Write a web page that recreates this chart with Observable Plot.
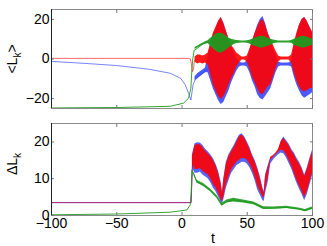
<!DOCTYPE html>
<html>
<head>
<meta charset="utf-8">
<script src="https://cdn.jsdelivr.net/npm/d3@7"></script>
<script src="https://cdn.jsdelivr.net/npm/@observablehq/plot@0.6"></script>
<style>
  html, body { margin: 0; padding: 0; background: #fff; }
  #chart { width: 327px; height: 246px; position: relative; }
  #chart svg { display: block; }
</style>
</head>
<body>
<div id="chart"></div>
<script>
// ---------- axes ----------
const xDomain = [-100, 100];
const xTicks = [-100, -50, 0, 50, 100];
const topDomain = [-25, 25];
const topTicks = [-20, 0, 20];
const botDomain = [0, 25];
const botTicks = [0, 10, 20];

// ---------- top panel: <L_k> ----------
const topBlueT = [-100, -75, -50, -25, -9, -1, 2.5, 5, 6.8, 7.6, 8.5, 10, 14, 19, 22];
const topBlueV = [-1.2, -2.2, -3.3, -5.2, -7.2, -9.8, -13, -17.3, -20.7, -17, -13, -10.6, -8.1, -5.6, -4];
const topRedT = [-100, 5, 6.5, 7.3, 8, 8.8, 9.5, 10.5];
const topRedV = [0.3, 0.3, 0, -3, -6.4, -5, -1, 0];
const topGreenT = [-100, -50, -9, 1.2, 5, 6.8, 7.6, 8.3, 9.3, 11.5, 16.5, 21.6];
const topGreenV = [-24.7, -24.5, -23.9, -22.3, -19.8, -14.8, -5, 0.3, 4.4, 5.3, 7.8, 8.6];

const topBandT = [10,12,14,16,18,20,22,24,26,28,30,32,34,36,38,40,42,44,46,48,50,52,54,56,58,60,62,64,66,68,70,72,74,76,78,80,82,84,86,88,90,92,94,96,98,100];
const topRedHi = [1,2,2,1.5,2,3,8,13,16,19,21,18,14,10,7,5,3,2,1,1,1.5,5,9,13,16,19,20,17,13,10,7,4,1.5,1,1,1,1,2,8,13,17,20,21,19,16,13.6];
const topRedLo = [-1.5,-2.5,-2,-2.5,-2,-3,-8,-13,-16,-19,-20.5,-19,-16.5,-13,-10,-7.5,-4,-2,-0.5,-0.5,-1.5,-5,-9,-12,-15,-17.5,-18,-16,-14,-13,-9,-5,-1.5,-0.5,-0.5,-0.5,-0.5,-2,-7,-11,-14,-16,-16.5,-16,-15,-14.8];
const topBlueHi = [-9,-7.5,-6.5,-5.5,-4.5,2,7,12,15,19,21,18,14,10,6,3,0,-1.5,-2,-2,-1,4,9,13,17,20,21.5,18,13,9,5,2,-1.5,-2,-2,-2,-2,-1,6,12,17,20,21,19,16,13];
const topBlueLo = [-11,-10,-9,-8,-7,-7,-11,-15,-18,-21,-23,-22,-19,-16,-12,-9,-6,-4,-3.5,-3.5,-4,-7,-11,-14,-18,-20,-20.7,-19,-17,-15,-11,-7,-4,-3.5,-3.5,-3.5,-3.5,-4,-9,-13,-16,-18.5,-19.8,-19,-18,-17];
const topGreenHi = [5.8,6.5,7.3,8,8.7,9.2,10.5,11.5,12.5,13,13,12.5,11.5,10.5,10,9.6,9.3,9.2,9.1,9.1,9.2,9.5,10,10.5,11,11.5,11.5,11,10.5,10,9.6,9.3,9.1,9.1,9.1,9.1,9.1,9.3,10,10.5,11,11.5,11.5,11,10.5,10];
const topGreenLo = [4.8,5.5,6.3,7,7.7,7.8,6.5,5,4,3,3,3.5,4.5,5.5,6.5,7.3,7.8,8,8.1,8.1,8,7.6,7,6.5,6,5.6,5.6,6,6.5,7,7.6,7.9,8.1,8.1,8.1,8.1,8.1,7.9,7,6.5,6,5.6,5.6,6,6.5,7];

// ---------- bottom panel: ΔL_k ----------
const botRedLineT = [-100, 7, 7.6, 8.2];
const botRedLineV = [3.5, 3.5, 10, 15.5];
const botBlueLineT = [-100, 7, 7.6, 8.2];
const botBlueLineV = [3.5, 3.5, 10, 15.5];
const botBandT = [8,10,12,14,16,18,20,22,24,26,28,30,31,32,34,36,38,40,42,44,46,48,50,52,54,56,58,60,62,63,64,66,68,70,72,74,76,78,80,82,84,86,88,90,92,94,96,98,100];
const botRedLo = [14,12.5,12.5,12.8,12,11.5,11,10,8.5,7.5,6,4.2,3.8,5,8.5,10.5,12.4,13.5,14.5,15,15.5,15.5,15,14,12.5,10.5,8,6.5,5,4.8,7,10,15,15.8,16.5,17.2,17.8,17.5,16.5,15,13.5,11.5,9.6,8,6.5,4.8,6.5,9,11.5];
const botRedHi = [16,19,19.3,19.2,18.5,17.5,16.8,16,15,13.5,11.5,8.5,6,9.5,14,16,17.3,18.5,20,21.4,21.9,21,19.6,18,16,14.5,12.5,10,7,6.1,10.5,13,15.8,16.3,17,18,20,21,20,19,17.5,16.5,15.1,14,12.5,10.5,12.5,15,17.3];
const botBlueLo = [13,11.5,11.5,11.8,11,10.5,10,9,7.5,6.5,5,3.5,3.2,4.2,7.5,9.5,11.5,12.5,13.5,14,14.5,14.5,14,13,11.5,9.5,7,5.5,4,3.8,6,9,14,15,15.8,16.5,17,16.8,15.7,14.2,12.7,10.7,8.8,7.2,5.7,4,5.7,8.2,10.7];
const botBlueHi = [16.5,19.5,19.8,19.7,19,18,17.3,16.5,15.5,14,12,9,6.5,10,14.5,16.5,17.8,19,20.5,21.8,22.2,21.4,20,18.5,16.5,15,13,10.5,7.5,6.5,11,13.5,15.5,16,16.7,17.7,20.2,21.3,20.4,19.4,18,17,15.6,14.5,13,11,13,15.5,17.7];
const botGreenT = [-100, -50, -9, 3.7, 6.3, 7.0, 7.6, 8.8, 11.4, 16.5, 21.6, 26.7, 30.6, 34.4, 39.5, 47, 55, 62.5, 70, 80.3, 90.6, 94.4, 99.5];
const botGreenV = [0.2, 0.4, 0.9, 1.5, 2.9, 6, 12.4, 11.5, 9.2, 8.3, 6.9, 5.1, 2.9, 3.8, 4.2, 3.8, 3.3, 2, 2, 2.2, 1.7, 1.3, 2];
const botGreenBandT = [9, 11.4, 16.5, 21.6, 26.7, 30.6, 34.4, 39.5, 47, 55, 62.5, 70, 80.3, 90.6, 94.4, 100];
const botGreenLo = [11.1, 8.8, 7.9, 6.5, 4.7, 2.5, 3.4, 3.7, 3.4, 2.9, 1.6, 1.7, 1.9, 1.4, 1.0, 1.6];
const botGreenHi = [11.8, 9.6, 8.7, 7.3, 5.5, 3.3, 4.2, 4.7, 4.2, 3.7, 2.4, 2.3, 2.5, 2.0, 1.6, 2.3];

// ---------- helpers ----------
const line = (T, V) => T.map((t, i) => ({t, v: V[i]}));
const band = (T, L, H) => T.map((t, i) => ({t, lo: L[i], hi: H[i]}));
const fmt = d => String(d).replace("-", "\u2212");

const RED = "#ff0000", BLUE = "#2a3dff", GREEN = "#1f9a1f", TICK = "#777";
const FONT = "'Liberation Sans', Arial, Helvetica, sans-serif";

function axes(yTicks, showX) {
  return [
    Plot.frame({stroke: "#8a8a8a"}),
    Plot.axisX({anchor: "bottom", ticks: xTicks, tickSize: -3, tickPadding: 6, stroke: TICK,
      tickFormat: showX ? fmt : () => "", label: null, fill: "#000"}),
    Plot.axisX({anchor: "top", ticks: xTicks, tickSize: -3, stroke: TICK, tickFormat: () => "", label: null}),
    Plot.axisY({anchor: "left", ticks: yTicks, tickSize: -3, tickPadding: 5, stroke: TICK,
      tickFormat: fmt, label: null, fill: "#000"}),
    Plot.axisY({anchor: "right", ticks: yTicks, tickSize: -3, stroke: TICK, tickFormat: () => "", label: null}),
    Plot.ruleX([xDomain[0]], {stroke: "#222", strokeWidth: 1})
  ];
}

const common = {
  width: 327, marginLeft: 51, marginRight: 15,
  style: {fontFamily: FONT, fontSize: "14px", color: "#000", background: "transparent"},
  x: {domain: xDomain}
};

const topPlot = Plot.plot({
  ...common, height: 116, marginTop: 9, marginBottom: 8,
  y: {domain: topDomain},
  marks: [
    Plot.areaY(band(topBandT, topBlueLo, topBlueHi), {x: "t", y1: "lo", y2: "hi", fill: BLUE, fillOpacity: 0.85}),
    Plot.lineY(line(topBlueT, topBlueV), {x: "t", y: "v", stroke: BLUE, strokeWidth: 0.8, strokeOpacity: 0.8}),
    Plot.areaY(band(topBandT, topRedLo, topRedHi), {x: "t", y1: "lo", y2: "hi", fill: RED, fillOpacity: 0.9}),
    Plot.lineY(line(topRedT, topRedV), {x: "t", y: "v", stroke: RED, strokeWidth: 0.8, strokeOpacity: 0.75}),
    Plot.areaY(band(topBandT, topGreenLo, topGreenHi), {x: "t", y1: "lo", y2: "hi", fill: GREEN, fillOpacity: 0.95}),
    Plot.lineY(line(topGreenT, topGreenV), {x: "t", y: "v", stroke: GREEN, strokeWidth: 0.9}),
    ...axes(topTicks, false)
  ]
});

const botPlot = Plot.plot({
  ...common, height: 130, marginTop: 7, marginBottom: 31,
  y: {domain: botDomain},
  marks: [
    Plot.areaY(band(botBandT, botBlueLo, botBlueHi), {x: "t", y1: "lo", y2: "hi", fill: BLUE, fillOpacity: 0.8}),
    Plot.lineY(line(botBlueLineT, botBlueLineV), {x: "t", y: "v", stroke: BLUE, strokeWidth: 0.9}),
    Plot.areaY(band(botBandT, botRedLo, botRedHi), {x: "t", y1: "lo", y2: "hi", fill: RED, fillOpacity: 0.9}),
    Plot.lineY(line(botRedLineT, botRedLineV), {x: "t", y: "v", stroke: RED, strokeWidth: 0.9, strokeOpacity: 0.6}),
    Plot.areaY(band(botGreenBandT, botGreenLo, botGreenHi), {x: "t", y1: "lo", y2: "hi", fill: GREEN, fillOpacity: 0.9}),
    Plot.lineY(line(botGreenT, botGreenV), {x: "t", y: "v", stroke: GREEN, strokeWidth: 0.9}),
    ...axes(botTicks, true)
  ]
});

const chart = document.getElementById("chart");
chart.appendChild(topPlot);
chart.appendChild(botPlot);

// y-axis labels with subscripts, and x label
function yLabel(svg, cy, main) {
  const t = d3.select(svg).append("text")
    .attr("transform", `translate(17,${cy}) rotate(-90)`)
    .attr("text-anchor", "middle")
    .attr("font-family", FONT).attr("font-size", 14).attr("fill", "#000");
  t.append("tspan").text(main.pre);
  t.append("tspan").attr("dy", 4).attr("font-size", 10).text("k");
  if (main.post) t.append("tspan").attr("dy", -4).text(main.post);
}
yLabel(topPlot, 59, {pre: "<L", post: ">"});
yLabel(botPlot, 48, {pre: "\u0394L", post: ""});
d3.select(botPlot).append("text")
  .attr("x", 213).attr("y", 127).attr("text-anchor", "middle")
  .attr("font-family", FONT).attr("font-size", 14).attr("fill", "#000").text("t");
</script>
</body>
</html>
